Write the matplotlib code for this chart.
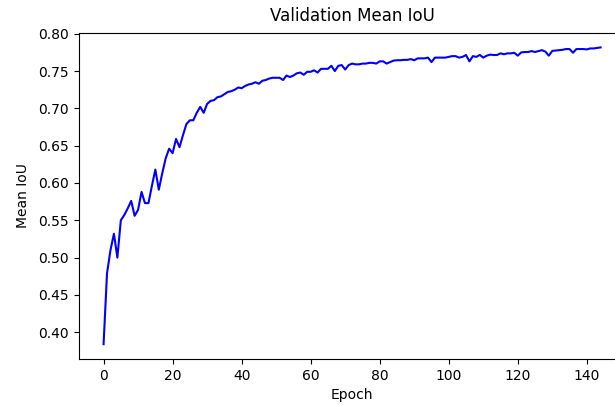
import matplotlib
matplotlib.use("Agg")
import matplotlib.pyplot as plt
import numpy as np

title = "Validation Mean IoU"
xlabel = "Epoch"
ylabel = "Mean IoU"

mean_iou = [
    0.384, 0.479, 0.510, 0.532, 0.500, 0.550, 0.557, 0.566, 0.576, 0.556,
    0.564, 0.588, 0.573, 0.573, 0.596, 0.618, 0.591, 0.613, 0.633, 0.646,
    0.640, 0.659, 0.648, 0.664, 0.679, 0.684, 0.684, 0.694, 0.702, 0.694,
    0.706, 0.710, 0.711, 0.715, 0.716, 0.719, 0.722, 0.723, 0.725, 0.728,
    0.727, 0.730, 0.732, 0.733, 0.735, 0.733, 0.737, 0.738, 0.740, 0.741,
    0.741, 0.741, 0.738, 0.744, 0.742, 0.744, 0.747, 0.748, 0.745, 0.749,
    0.749, 0.751, 0.748, 0.753, 0.753, 0.753, 0.757, 0.750, 0.757, 0.758,
    0.752, 0.758, 0.760, 0.759, 0.759, 0.760, 0.760, 0.761, 0.761, 0.760,
    0.763, 0.763, 0.760, 0.762, 0.764, 0.7645, 0.7645, 0.765, 0.765, 0.766,
    0.7645, 0.767, 0.767, 0.767, 0.768, 0.762, 0.768, 0.768, 0.768, 0.768,
    0.769, 0.770, 0.770, 0.768, 0.769, 0.7715, 0.763, 0.770, 0.769, 0.7716,
    0.768, 0.7706, 0.772, 0.7715, 0.7715, 0.7737, 0.7725, 0.7737, 0.7737, 0.7745,
    0.7706, 0.775, 0.7755, 0.7755, 0.7768, 0.7755, 0.7768, 0.778, 0.776, 0.7706,
    0.777, 0.7775, 0.778, 0.7785, 0.7795, 0.7795, 0.7746, 0.7795, 0.7795, 0.7795,
    0.779, 0.7803, 0.7803, 0.781, 0.7817,
]
epochs = list(range(len(mean_iou)))

fig = plt.figure(figsize=(6.15, 4.05), dpi=100)
ax = fig.add_axes([0.128, 0.1136, 0.889, 0.806])
ax.plot(epochs, mean_iou, color="blue", linewidth=1.5)
ax.set_title(title, fontsize=12, pad=8)
ax.set_xlabel(xlabel)
ax.set_ylabel(ylabel, labelpad=6)
ax.set_xticks(np.arange(0, 141, 20))
fig.savefig("out.png", dpi=100)
